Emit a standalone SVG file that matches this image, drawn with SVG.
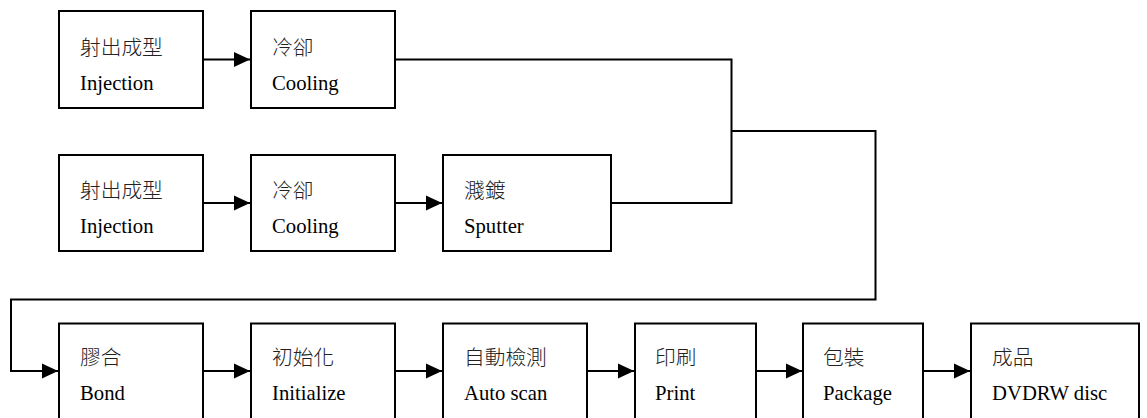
<svg xmlns="http://www.w3.org/2000/svg" width="1147" height="418" viewBox="0 0 1147 418">
<defs>
<style>
.box{fill:#fff;stroke:#000;stroke-width:2}
.t{font-family:"Liberation Serif","Noto Sans CJK TC",serif;font-size:20.7px;fill:#000}
.c{font-family:"Noto Sans CJK TC","Liberation Serif",sans-serif;font-size:20.7px;font-weight:300;fill:#222}
.ln{fill:none;stroke:#000;stroke-width:2}
</style>
<marker id="ah" markerWidth="16" markerHeight="16" viewBox="0 0 16 16" refX="16" refY="8" orient="auto" markerUnits="userSpaceOnUse">
<path d="M0,0.5 L16,8 L0,15.5 Z" fill="#000"/>
</marker>
</defs>
<rect width="1147" height="418" fill="#fff"/>
<g id="connectors">
<path class="ln" d="M203,59.5 H250" marker-end="url(#ah)"/>
<path class="ln" d="M395,59.5 H731.5 V203 H611"/>
<path class="ln" d="M203,203 H250" marker-end="url(#ah)"/>
<path class="ln" d="M395,203 H442" marker-end="url(#ah)"/>
<path class="ln" d="M731.5,131 H875.5 V299.5 H11 V371 H58" marker-end="url(#ah)"/>
<path class="ln" d="M203,371 H250" marker-end="url(#ah)"/>
<path class="ln" d="M395,371 H442" marker-end="url(#ah)"/>
<path class="ln" d="M587,371 H634" marker-end="url(#ah)"/>
<path class="ln" d="M756,371 H802" marker-end="url(#ah)"/>
<path class="ln" d="M923,371 H970" marker-end="url(#ah)"/>
</g>
<g id="n1"><rect class="box" x="59" y="11" width="144" height="97"/><text class="c" x="80" y="54.5">射出成型</text><text class="t" x="80" y="90">Injection</text></g>
<g id="n2"><rect class="box" x="251" y="11" width="144" height="97"/><text class="c" x="272" y="54.5">冷卻</text><text class="t" x="272" y="90">Cooling</text></g>
<g id="n3"><rect class="box" x="59" y="155" width="144" height="96"/><text class="c" x="80" y="198">射出成型</text><text class="t" x="80" y="233">Injection</text></g>
<g id="n4"><rect class="box" x="251" y="155" width="144" height="96"/><text class="c" x="272" y="198">冷卻</text><text class="t" x="272" y="233">Cooling</text></g>
<g id="n5"><rect class="box" x="443" y="155" width="168" height="96"/><text class="c" x="464" y="198">濺鍍</text><text class="t" x="464" y="233">Sputter</text></g>
<g id="n6"><rect class="box" x="59" y="323.5" width="144" height="110"/><text class="c" x="80" y="364.5">膠合</text><text class="t" x="80" y="400">Bond</text></g>
<g id="n7"><rect class="box" x="251" y="323.5" width="144" height="110"/><text class="c" x="272" y="364.5">初始化</text><text class="t" x="272" y="400">Initialize</text></g>
<g id="n8"><rect class="box" x="443" y="323.5" width="144" height="110"/><text class="c" x="464" y="364.5">自動檢測</text><text class="t" x="464" y="400">Auto scan</text></g>
<g id="n9"><rect class="box" x="635" y="323.5" width="121" height="110"/><text class="c" x="655" y="364.5">印刷</text><text class="t" x="655" y="400">Print</text></g>
<g id="n10"><rect class="box" x="803" y="323.5" width="120" height="110"/><text class="c" x="823" y="364.5">包裝</text><text class="t" x="823" y="400">Package</text></g>
<g id="n11"><rect class="box" x="971" y="323.5" width="168" height="110"/><text class="c" x="992" y="364.5">成品</text><text class="t" x="992" y="400">DVDRW disc</text></g>
</svg>
